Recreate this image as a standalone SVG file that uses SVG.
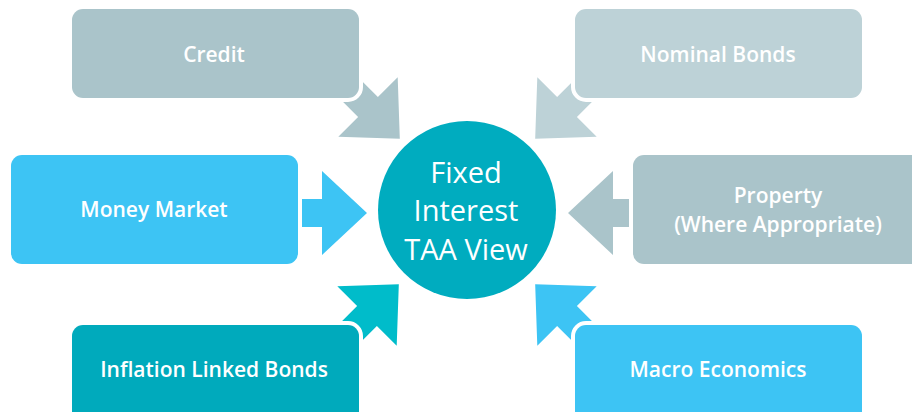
<svg xmlns="http://www.w3.org/2000/svg" width="912" height="412" viewBox="0 0 912 412">
<style>
.box{stroke:#fff;stroke-width:8;paint-order:stroke}
.lbl{font-family:"Open Sans","Noto Sans",sans-serif;font-size:21px;font-weight:600;fill:#fff;text-anchor:middle}
.ctr{font-family:"Open Sans","Noto Sans",sans-serif;font-size:29px;font-weight:500;fill:#fff;text-anchor:middle}
</style>
<defs>
<path id="arr" d="M-55,-14 L0,-14 L0,-42 L45,0 L0,42 L0,14 L-55,14 Z"/>
</defs>
<rect width="912" height="412" fill="#fff"/>
<g id="connectors">
<use href="#arr" fill="#AAC4CA" transform="translate(368,107) rotate(45)"/>
<use href="#arr" fill="#BDD2D7" transform="translate(567,107) rotate(135)"/>
<use href="#arr" fill="#3DC4F4" transform="translate(322,213)"/>
<use href="#arr" fill="#AAC4CA" transform="translate(613,213) rotate(180)"/>
<use href="#arr" fill="#00BCCA" transform="translate(367,316) rotate(-45)"/>
<use href="#arr" fill="#3DC4F4" transform="translate(567,316) rotate(-135)"/>
</g>
<g id="credit">
<rect class="box" x="72" y="9" width="287" height="89" rx="11" fill="#AAC4CA"/>
<text class="lbl" x="214" y="62">Credit</text>
</g>
<g id="nominal-bonds">
<rect class="box" x="575" y="9" width="287" height="89" rx="11" fill="#BDD2D7"/>
<text class="lbl" x="718" y="62">Nominal Bonds</text>
</g>
<g id="money-market">
<rect class="box" x="11" y="155" width="287" height="109" rx="11" fill="#3DC4F4"/>
<text class="lbl" x="154" y="217">Money Market</text>
</g>
<g id="property">
<rect class="box" x="633" y="155" width="300" height="109" rx="11" fill="#AAC4CA"/>
<text class="lbl" x="778" y="203">Property</text>
<text class="lbl" x="778" y="232">(Where Appropriate)</text>
</g>
<g id="inflation-linked-bonds">
<rect class="box" x="72" y="325" width="287" height="100" rx="11" fill="#00AABC"/>
<text class="lbl" x="214" y="377">Inflation Linked Bonds</text>
</g>
<g id="macro-economics">
<rect class="box" x="575" y="325" width="287" height="100" rx="11" fill="#3DC4F4"/>
<text class="lbl" x="718" y="377">Macro Economics</text>
</g>
<g id="center">
<circle cx="467" cy="210" r="89" fill="#00ACBF"/>
<text class="ctr" x="466" y="183">Fixed</text>
<text class="ctr" x="466" y="221">Interest</text>
<text class="ctr" x="466" y="260">TAA View</text>
</g>
</svg>
